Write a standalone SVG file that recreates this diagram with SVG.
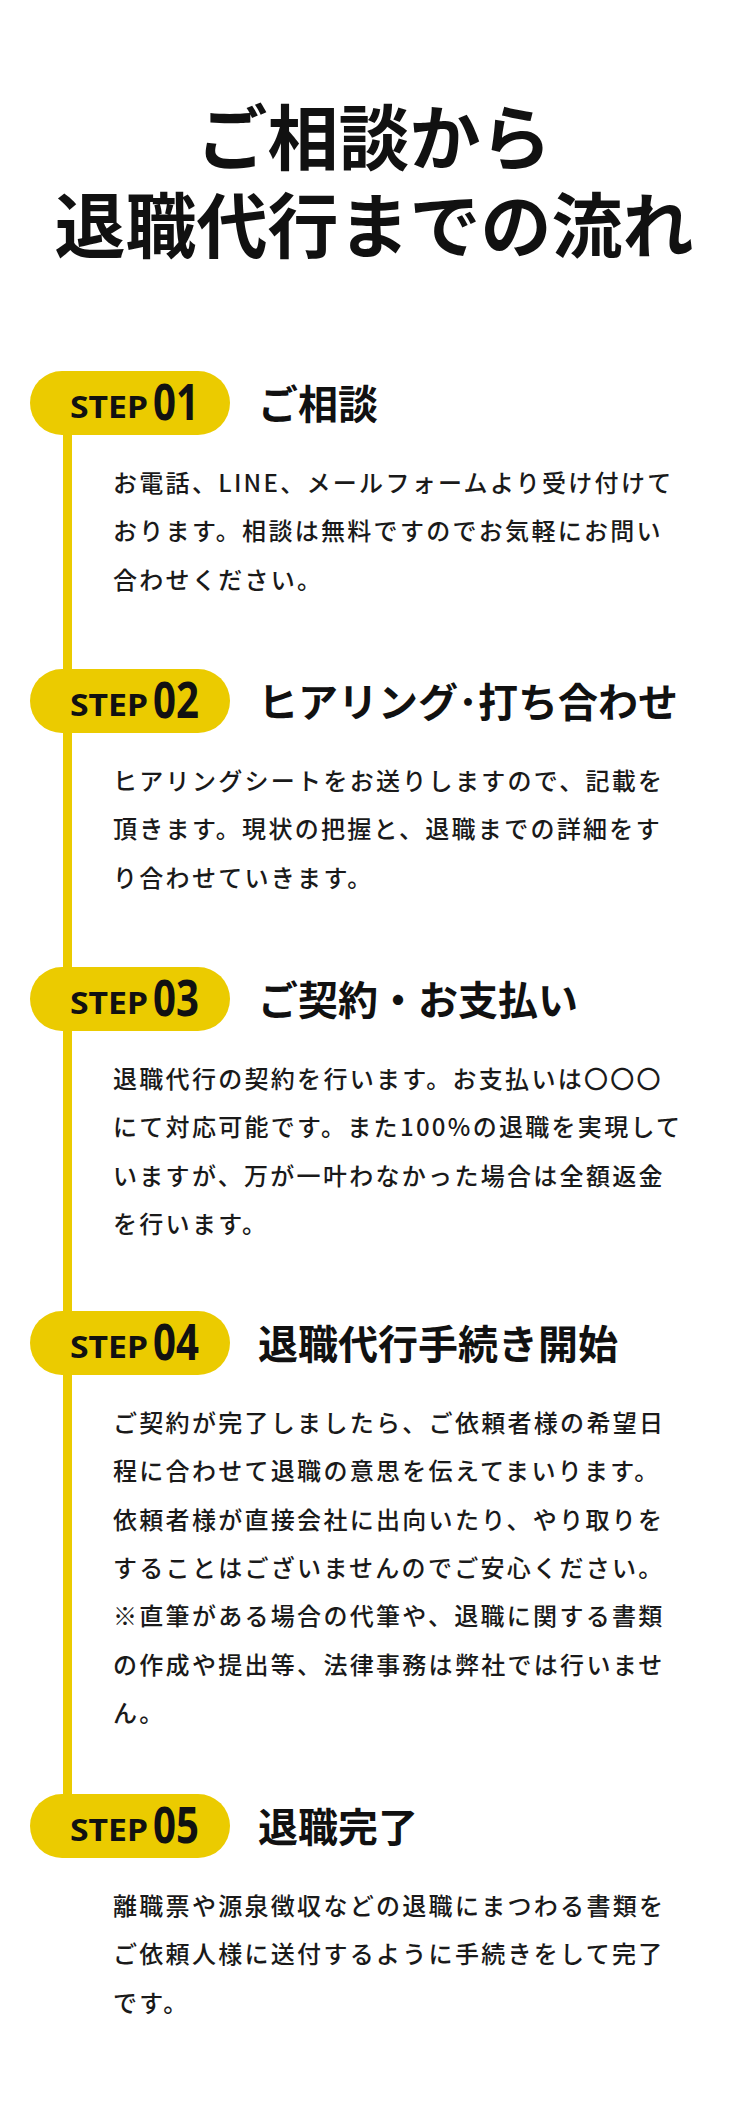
<svg xmlns="http://www.w3.org/2000/svg" width="749" height="2105" viewBox="0 0 749 2105">
<style>
.t{font-family:"Noto Sans CJK JP","Noto Sans",sans-serif;font-weight:700;fill:#111}
.b{font-family:"Noto Sans CJK JP","Noto Sans",sans-serif;font-weight:500;font-size:24px;fill:#1a1a1a;letter-spacing:2.3px}
.pill{fill:#EBCB00}
.st{font-family:"Noto Sans","DejaVu Sans",sans-serif;font-weight:700;fill:#111}
</style>
<rect width="749" height="2105" fill="#fff"/>
<g id="title" class="t" text-anchor="middle" font-size="71">
<text x="374" y="164">ご相談から</text>
<text x="374" y="252">退職代行までの流れ</text>
</g>
<g id="connectors"><rect x="63" y="403" width="9" height="1423" class="pill"/></g>
<g id="step1">
<rect x="30" y="371" width="200" height="64" rx="32" class="pill"/>
<text class="st" x="70" y="418" font-size="30" textLength="78" lengthAdjust="spacingAndGlyphs">STEP</text>
<text class="st" x="153" y="420" font-size="50" textLength="46" lengthAdjust="spacingAndGlyphs">01</text>
<text class="t" x="258" y="419" font-size="40">ご相談</text>
<g class="b"><text x="113" y="492">お電話、LINE、メールフォームより受け付けて</text><text x="113" y="540">おります。相談は無料ですのでお気軽にお問い</text><text x="113" y="589">合わせください。</text></g>
</g>
<g id="step2">
<rect x="30" y="669" width="200" height="64" rx="32" class="pill"/>
<text class="st" x="70" y="716" font-size="30" textLength="78" lengthAdjust="spacingAndGlyphs">STEP</text>
<text class="st" x="153" y="718" font-size="50" textLength="46" lengthAdjust="spacingAndGlyphs">02</text>
<text class="t" x="258" y="717" font-size="40">ヒアリング･打ち合わせ</text>
<g class="b"><text x="113" y="790">ヒアリングシートをお送りしますので、記載を</text><text x="113" y="838">頂きます。現状の把握と、退職までの詳細をす</text><text x="113" y="887">り合わせていきます。</text></g>
</g>
<g id="step3">
<rect x="30" y="967" width="200" height="64" rx="32" class="pill"/>
<text class="st" x="70" y="1014" font-size="30" textLength="78" lengthAdjust="spacingAndGlyphs">STEP</text>
<text class="st" x="153" y="1016" font-size="50" textLength="46" lengthAdjust="spacingAndGlyphs">03</text>
<text class="t" x="258" y="1015" font-size="40">ご契約・お支払い</text>
<g class="b"><text x="113" y="1088">退職代行の契約を行います。お支払いは〇〇〇</text><text x="113" y="1136">にて対応可能です。また100%の退職を実現して</text><text x="113" y="1185">いますが、万が一叶わなかった場合は全額返金</text><text x="113" y="1233">を行います。</text></g>
</g>
<g id="step4">
<rect x="30" y="1311" width="200" height="64" rx="32" class="pill"/>
<text class="st" x="70" y="1358" font-size="30" textLength="78" lengthAdjust="spacingAndGlyphs">STEP</text>
<text class="st" x="153" y="1360" font-size="50" textLength="46" lengthAdjust="spacingAndGlyphs">04</text>
<text class="t" x="258" y="1359" font-size="40">退職代行手続き開始</text>
<g class="b"><text x="113" y="1432">ご契約が完了しましたら、ご依頼者様の希望日</text><text x="113" y="1480">程に合わせて退職の意思を伝えてまいります。</text><text x="113" y="1529">依頼者様が直接会社に出向いたり、やり取りを</text><text x="113" y="1577">することはございませんのでご安心ください。</text><text x="113" y="1625">※直筆がある場合の代筆や、退職に関する書類</text><text x="113" y="1674">の作成や提出等、法律事務は弊社では行いませ</text><text x="113" y="1722">ん。</text></g>
</g>
<g id="step5">
<rect x="30" y="1794" width="200" height="64" rx="32" class="pill"/>
<text class="st" x="70" y="1841" font-size="30" textLength="78" lengthAdjust="spacingAndGlyphs">STEP</text>
<text class="st" x="153" y="1843" font-size="50" textLength="46" lengthAdjust="spacingAndGlyphs">05</text>
<text class="t" x="258" y="1842" font-size="40">退職完了</text>
<g class="b"><text x="113" y="1915">離職票や源泉徴収などの退職にまつわる書類を</text><text x="113" y="1963">ご依頼人様に送付するように手続きをして完了</text><text x="113" y="2012">です。</text></g>
</g>
</svg>
